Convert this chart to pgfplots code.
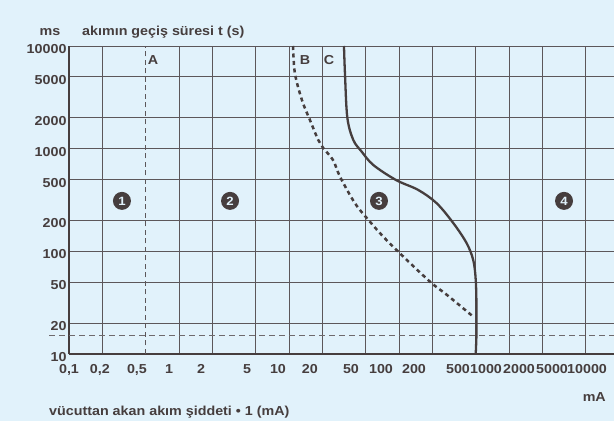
\documentclass[border=0pt]{standalone}
\usepackage{fontspec}
\setmainfont{Liberation Sans}[FakeStretch=1.1]
\usepackage{pgfplots}
\pgfplotsset{compat=1.18}
\definecolor{bg}{RGB}{225,242,251}
\definecolor{ink}{RGB}{70,62,62}
\definecolor{gridc}{RGB}{92,87,90}
\definecolor{dashc}{RGB}{110,105,108}
\newcommand{\lbl}{\bfseries\fontsize{13}{15}\selectfont}
\newcommand{\circfont}{\bfseries\fontsize{12}{13}\selectfont}
\begin{document}
\begin{tikzpicture}[x=1pt,y=1pt]
\fill[bg] (-69,-67) rectangle (545,354);
\useasboundingbox (-69,-67) rectangle (545,354);
\begin{axis}[
  at={(0,0)}, anchor=south west,
  scale only axis, width=545pt, height=308pt,
  xmode=log, ymode=log,
  xmin=0.1, xmax=9000, ymin=10, ymax=10000,
  axis lines=left, axis line style={ink, line width=1.4pt, -},
  xtick={0.1,0.2,1,2,5,10,20,50,100,200,500,1000,2000,5000},
  xticklabels={},
  extra x ticks={0.1,0.191,0.415,0.811,1.585,4.15,7.94,15.5,36.6,68.6,136.8,343.7,618,1233,2460,5120},
  extra x tick labels={{0,1},{0,2},{0,5},1,2,5,10,20,50,100,200,500,1000,2000,5000,10000},
  extra x tick style={grid=none, major tick length=0pt, xticklabel style={yshift=-7pt}},
  ytick={10,20,50,100,200,500,1000,2000,5000,10000},
  yticklabels={10,20,50,100,200,500,1000,2000,5000,10000},
  grid=major, major grid style={gridc, line width=0.9pt},
  major tick length=0pt,
  tick label style={font=\lbl, text=ink},
  yticklabel style={yshift=-3pt, xshift=1pt},
  clip=false,
]
\addplot[gridc, line width=1pt, dash pattern=on 5pt off 3.5pt] coordinates {(0.5,10) (0.5,10000)};
\addplot[dashc, line width=1pt, dash pattern=on 5.5pt off 4.5pt] coordinates {(0.066,15) (9000,15)};
\addplot[ink, line width=2.3pt, smooth, tension=0.55] coordinates {
(31.6,10000) (32.3,5220) (33.9,2004) (38.4,1216) (45.8,935) (58.4,693) (93.9,495) (149.6,396) (220,294) (312,188) (412,120) (473,82) (498,53) (506,29) (506,15.9) (498,10)};
\addplot[ink, line width=2.5pt, dash pattern=on 4pt off 3.5pt, smooth, tension=0.55] coordinates {
(10.9,10000) (11.3,5460) (13.1,2980) (15.5,1900) (18.4,1220) (20.4,1017) (25.1,776) (29.1,533) (39.8,294) (54.5,194) (71.9,139) (98.6,99) (191,50.7) (273,37.6) (473,23.1)};
\node[font=\lbl, text=ink] at (axis cs:0.58,7310) {A};
\node[font=\lbl, text=ink] at (axis cs:14.0,7310) {B};
\node[font=\lbl, text=ink] at (axis cs:23.1,7310) {C};
\node[circle, fill=ink, inner sep=0pt, minimum size=18pt, text=bg, font=\circfont] at (axis cs:0.303,310) {1};
\node[circle, fill=ink, inner sep=0pt, minimum size=18pt, text=bg, font=\circfont] at (axis cs:2.91,310) {2};
\node[circle, fill=ink, inner sep=0pt, minimum size=18pt, text=bg, font=\circfont] at (axis cs:65.8,310) {3};
\node[circle, fill=ink, inner sep=0pt, minimum size=18pt, text=bg, font=\circfont] at (axis cs:3162,310) {4};
\end{axis}
\node[anchor=base, inner sep=0pt, font=\lbl, text=ink] at (-19,318) {ms};
\node[anchor=base west, inner sep=0pt, font=\lbl, text=ink] at (13,318) {akımın geçiş süresi t (s)};
\node[anchor=base west, inner sep=0pt, font=\lbl, text=ink] at (-20,-61.5) {vücuttan akan akım şiddeti • 1 (mA)};
\node[anchor=base east, inner sep=0pt, font=\lbl, text=ink] at (537,-47) {mA};
\end{tikzpicture}
\end{document}
